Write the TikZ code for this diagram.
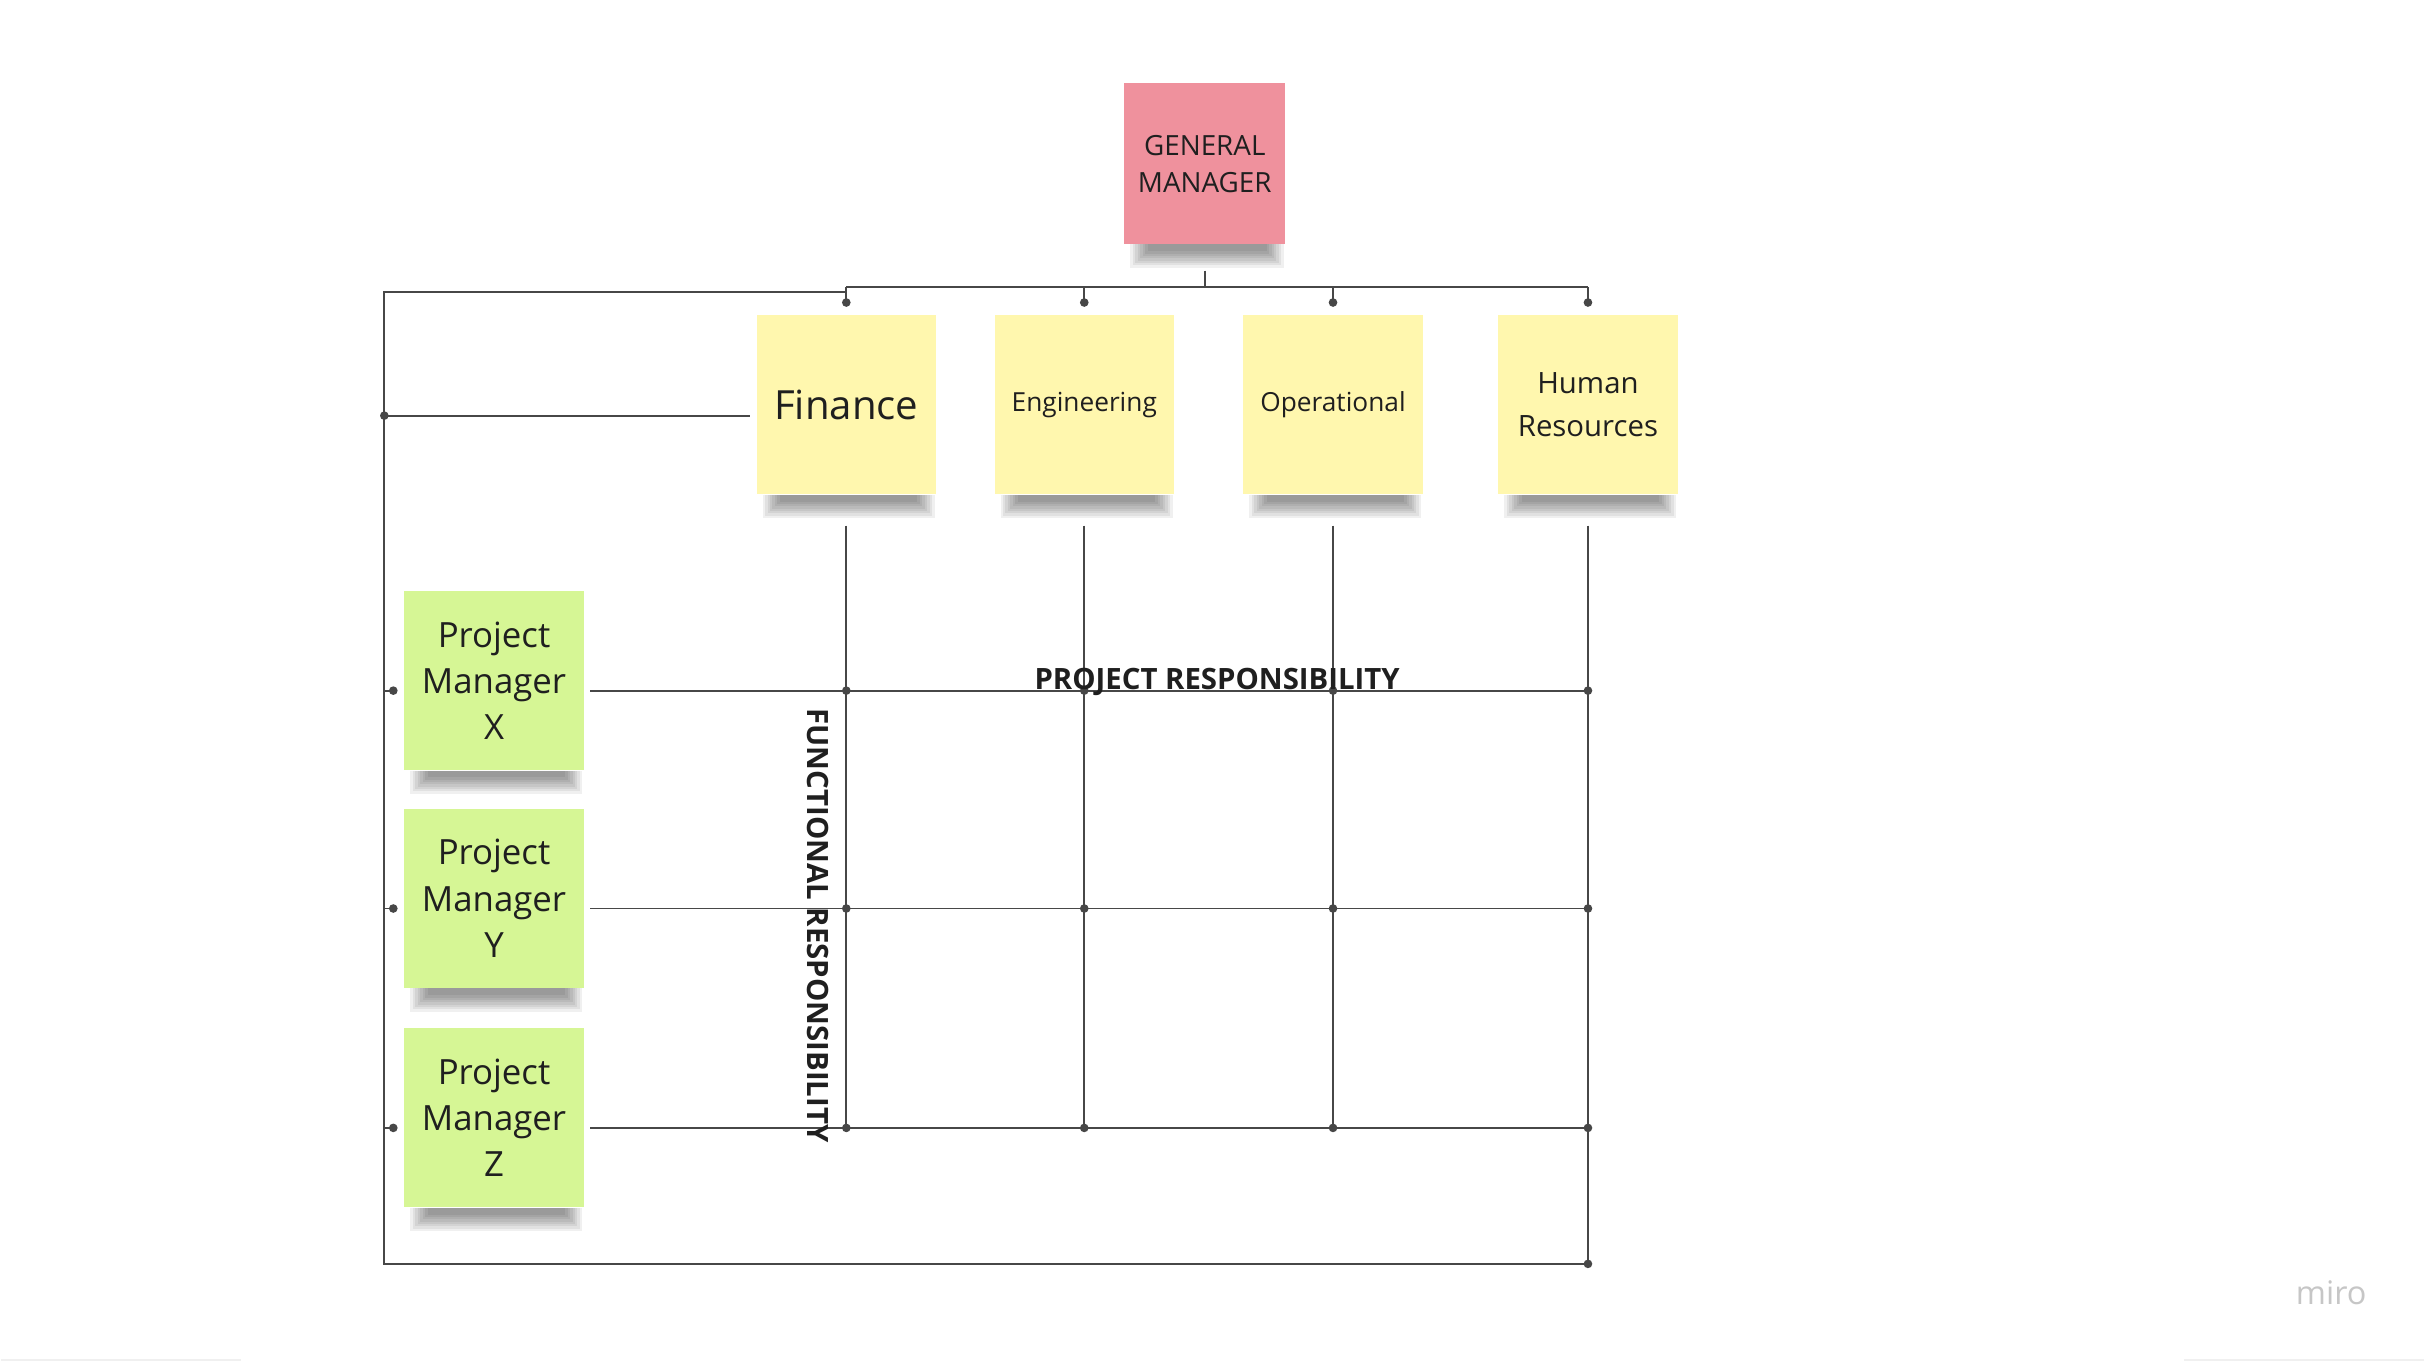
\documentclass[tikz,border=0pt]{standalone}
\usepackage{fontspec}
\setmainfont{Open Sans}
\definecolor{NotaAmarilla}{HTML}{FFF7AE}
\definecolor{NotaVerde}{HTML}{D6F695}
\definecolor{NotaRosa}{HTML}{EF919D}
\colorlet{Linea}{black!72}
\colorlet{Texto}{black!88}
\colorlet{Marca}{gray!45}

\tikzset{
  nota/.style={minimum width=116pt, minimum height=116pt, inner sep=0pt,
    align=center, text=Texto},
  linea/.style={draw=Linea, line width=1.2pt},
}

\begin{document}
\begin{tikzpicture}[x=1pt, y=-1pt]

% Fondo
\fill[white] (0,0) rectangle (1568,882);
\draw[gray!12, line width=1.5pt] (0,880) -- (155,880) (1413,880) -- (1568,880);

% Notas
\node[nota, fill=NotaRosa, minimum width=104pt, minimum height=104pt,
  font=\fontsize{18}{24}\selectfont] (gm) at (779,106) {GENERAL\\MANAGER};

\node[nota, fill=NotaAmarilla, font=\fontsize{26}{30}\selectfont]
  (finance) at (547,262) {Finance};
\node[nota, fill=NotaAmarilla, font=\fontsize{17}{22}\selectfont]
  (engineering) at (701,262) {Engineering};
\node[nota, fill=NotaAmarilla, font=\fontsize{17}{22}\selectfont]
  (operational) at (862,262) {Operational};
\node[nota, fill=NotaAmarilla, font=\fontsize{19}{28}\selectfont]
  (hr) at (1027,262) {Human\\Resources};

\node[nota, fill=NotaVerde, font=\fontsize{22.5}{30}\selectfont]
  (pmx) at (319,440.5) {Project\\Manager\\X};
\node[nota, fill=NotaVerde, font=\fontsize{22.5}{30}\selectfont]
  (pmy) at (319,581.5) {Project\\Manager\\Y};
\node[nota, fill=NotaVerde, font=\fontsize{22.5}{30}\selectfont]
  (pmz) at (319,723.5) {Project\\Manager\\Z};

% Sombras difusas bajo las notas
\foreach \n in {gm,finance,engineering,operational,hr,pmx,pmy,pmz}
  \foreach \k in {0,...,7}
    \fill[black, opacity=0.06]
      ([xshift={4pt+1.6*\k pt}]\n.south west)
      rectangle ([xshift={-1pt-1.6*\k pt}, yshift={-15pt+1.5*\k pt}]\n.south east);

\coordinate (bus) at (779,186);
\coordinate (esqSupIzq) at (248,189);
\coordinate (esqInfIzq) at (248,818);

% Del gerente a los departamentos
\draw[linea] ([yshift=-17pt]gm.south) -- (bus);
\draw[linea] (finance.north |- bus) -- (hr.north |- bus);
\foreach \dep in {finance,engineering,operational,hr}{
  \coordinate (tope-\dep) at ([yshift=8pt]\dep.north);
  \draw[linea] (\dep.north |- bus) -- (tope-\dep);
  \fill[Linea] (tope-\dep) circle (2.8pt);
}

% Marco exterior
\draw[linea] (finance.north |- bus) -- ++(0,3) -- (esqSupIzq) -- (esqInfIzq)
  -- (hr.south |- esqInfIzq);
\fill[Linea] (hr.south |- esqInfIzq) circle (2.8pt);

\coordinate (finIzq) at ([xshift=-4pt,yshift=-7pt]finance.west);
\draw[linea] (finIzq -| esqSupIzq) -- (finIzq);
\fill[Linea] (finIzq -| esqSupIzq) circle (2.8pt);

% Filas de cada jefe de proyecto
\foreach \jp in {pmx,pmy,pmz}{
  \coordinate (fila-\jp) at ([xshift=4pt,yshift=-6.5pt]\jp.east);
  \coordinate (izq-\jp) at ([xshift=-7pt]fila-\jp -| \jp.west);
  \draw[linea] (fila-\jp) -- (fila-\jp -| hr.south);
  \draw[linea] (fila-\jp -| esqSupIzq) -- (izq-\jp);
  \fill[Linea] (izq-\jp) circle (2.8pt);
}

% Columnas de cada departamento
\foreach \dep in {finance,engineering,operational}
  \draw[linea] ([yshift=-20pt]\dep.south) -- (\dep.south |- fila-pmz);
\draw[linea] ([yshift=-20pt]hr.south) -- (hr.south |- esqInfIzq);

\foreach \dep in {finance,engineering,operational,hr}
  \foreach \jp in {pmx,pmy,pmz}
    \fill[Linea] (\dep.south |- fila-\jp) circle (2.8pt);

% Rotulos
\node[anchor=base, text=Texto, font=\bfseries\fontsize{19}{19}\selectfont]
  (resproy) at (787,446) {PROJECT RESPONSIBILITY};
\node[anchor=base, rotate=-90, text=Texto, font=\bfseries\fontsize{19}{19}\selectfont]
  (resfunc) at (522,599) {FUNCTIONAL RESPONSIBILITY};

\node[anchor=base, text=Marca, font=\fontsize{21}{21}\selectfont]
  (marca) at (1508,844) {miro};

\end{tikzpicture}
\end{document}
